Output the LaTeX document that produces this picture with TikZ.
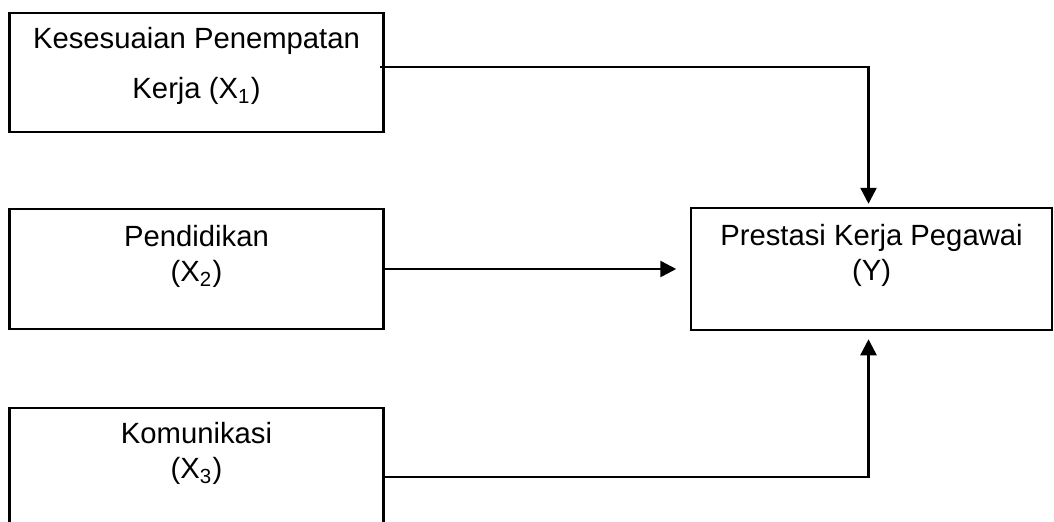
\documentclass[tikz,border=0pt]{standalone}
\usepackage{fontspec}
\setmainfont{Liberation Sans}
\usetikzlibrary{arrows.meta,positioning}

\begin{document}
\begin{tikzpicture}[x=0.4pt,y=-0.4pt,on grid,
  kotak/.style={draw,rectangle,line width=1pt,minimum width=149.6pt,minimum height=47.6pt,inner sep=0pt},
  tulisan/.style={align=center,anchor=base,inner sep=0pt,font=\fontsize{11.7}{14}\selectfont},
  panah/.style={line width=1pt,-{Triangle[length=6.4pt,width=6.4pt]}}]
  \clip (0,0) rectangle (1054,521);

  \node[kotak] (K1) at (196.5,72.5) {};
  \node[kotak,minimum height=48pt] (K2) [below=78.6pt of K1] {};
  \node[kotak,minimum height=55.2pt] (K3) [below=83.2pt of K2] {};
  \node[kotak,minimum width=144.4pt,minimum height=48.8pt] (PY) [right=270pt of K2] {};

  % anchor base = baseline of the last line
  \node[tulisan] (T1) at ([yshift=-34.8pt]K1.north) {Kesesuaian Penempatan\\[6pt]Kerja (X\textsubscript{1})};
  \node[tulisan] (T2) at ([yshift=-29.6pt]K2.north) {Pendidikan\\(X\textsubscript{2})};
  \node[tulisan] (T3) at ([yshift=-28.8pt]K3.north) {Komunikasi\\(X\textsubscript{3})};
  \node[tulisan] (TY) at ([yshift=-29.6pt]PY.north) {Prestasi Kerja Pegawai\\(Y)};

  \draw[panah,shorten >=1.2pt] ([xshift=-1.8pt,yshift=2.2pt]K1.east) -| ([xshift=-1.2pt]PY.north);
  \draw[panah,shorten >=5.4pt] (K2) -- (PY);
  \draw[panah,shorten >=3.2pt] (K3.east) -| ([xshift=-1.2pt]PY.south);
\end{tikzpicture}
\end{document}
